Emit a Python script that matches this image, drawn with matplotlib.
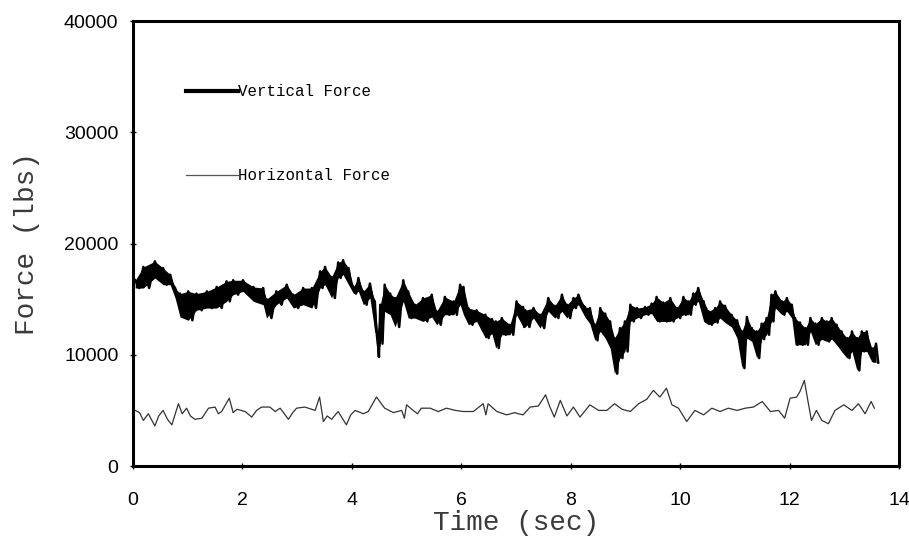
import numpy as np
import matplotlib
matplotlib.use("Agg")
import matplotlib.pyplot as plt
from matplotlib.lines import Line2D

# ---- Vertical force: time (s), band upper and lower edges (lbs)
vert_t = [0.04, 0.19, 0.40, 0.55, 0.68, 0.77, 0.86, 1.01, 1.16, 1.35, 1.53, 1.71, 1.83, 2.01,
          2.20, 2.38, 2.44, 2.62, 2.81, 2.93, 3.11, 3.27, 3.42, 3.51, 3.63, 3.75, 3.84, 3.94,
          4.03, 4.12, 4.21, 4.33, 4.42, 4.47, 4.52, 4.60, 4.70, 4.79, 4.94, 5.03, 5.15, 5.30,
          5.46, 5.55, 5.70, 5.86, 5.98, 6.04, 6.13, 6.28, 6.44, 6.56, 6.63, 6.74, 6.89, 7.01,
          7.13, 7.17, 7.32, 7.44, 7.59, 7.71, 7.84, 7.93, 8.05, 8.14, 8.26, 8.35, 8.44, 8.54,
          8.63, 8.72, 8.80, 8.90, 8.99, 9.09, 9.21, 9.36, 9.48, 9.57, 9.69, 9.82, 9.94, 10.06,
          10.15, 10.24, 10.33, 10.43, 10.52, 10.64, 10.73, 10.82, 10.94, 11.04, 11.13, 11.22,
          11.31, 11.40, 11.49, 11.58, 11.67, 11.74, 11.86, 11.95, 12.04, 12.10, 12.19, 12.29,
          12.38, 12.47, 12.59, 12.68, 12.77, 12.86, 12.95, 13.05, 13.14, 13.23, 13.32, 13.41,
          13.50, 13.58]
vert_hi = [16700, 17900, 18400, 17800, 17200, 16000, 15500, 15700, 15500, 15700, 16100, 16600,
           16700, 16700, 16100, 16000, 15000, 15700, 16300, 15400, 16000, 16000, 17500, 17900,
           17000, 18300, 18500, 17800, 16100, 16900, 15700, 16400, 14800, 12000, 14500, 16300,
           15500, 15100, 16700, 15700, 14500, 15100, 15400, 13900, 15200, 14800, 16300, 16100,
           14200, 14000, 13600, 13200, 13000, 13300, 12700, 14800, 14300, 14000, 14200, 13600,
           15100, 14400, 15400, 14500, 15100, 15400, 14300, 14200, 12700, 14200, 13700, 13000,
           11500, 12400, 13000, 14500, 14200, 14300, 14600, 15200, 14700, 15100, 14200, 15200,
           14800, 15500, 16000, 14800, 13900, 14200, 14800, 14400, 13600, 13100, 12100, 13400,
           12400, 12100, 12800, 13300, 15400, 15700, 14800, 15100, 14500, 13300, 12900, 12400,
           13300, 12800, 13300, 13000, 13300, 12700, 12100, 11500, 12100, 11500, 12100, 12100,
           10600, 11000]
vert_lo = [16000, 16000, 16900, 16300, 16300, 15100, 13400, 13100, 14000, 14200, 14200, 14800,
           15400, 15700, 14800, 14500, 13300, 14500, 15100, 14200, 14500, 14200, 16000, 16300,
           15100, 16900, 17200, 16300, 15500, 15700, 14500, 15100, 12100, 9800, 11000, 13900,
           13600, 12500, 14800, 13300, 13300, 13000, 13400, 12700, 13600, 13600, 14500, 13600,
           12700, 13000, 11500, 11900, 10600, 11800, 11800, 13600, 12500, 12500, 13300, 12400,
           13900, 13300, 13900, 13300, 14200, 14500, 13400, 12800, 11300, 12100, 11500, 10600,
           8300, 9700, 10300, 13000, 13300, 13600, 13700, 13000, 13000, 13000, 13300, 13600,
           13600, 14500, 14800, 13000, 12700, 12900, 13300, 12900, 12500, 11500, 8800, 11500,
           11200, 9700, 11400, 11800, 13000, 14200, 13600, 13900, 13300, 10900, 10900, 10900,
           12100, 10900, 11400, 11200, 11400, 10900, 10300, 9700, 10300, 8600, 10300, 10300,
           9400, 9300]

# ---- Horizontal force: time (s), value (lbs)
horiz_t = [0.04, 0.12, 0.19, 0.28, 0.40, 0.47, 0.55, 0.63, 0.71, 0.83, 0.90, 0.98, 1.05, 1.13,
           1.26, 1.38, 1.50, 1.56, 1.62, 1.76, 1.83, 1.90, 2.05, 2.17, 2.26, 2.35, 2.50, 2.60,
           2.69, 2.84, 2.92, 2.99, 3.14, 3.33, 3.41, 3.48, 3.55, 3.63, 3.75, 3.90, 3.98, 4.06,
           4.21, 4.30, 4.45, 4.60, 4.76, 4.91, 4.96, 5.00, 5.12, 5.20, 5.27, 5.43, 5.58, 5.73,
           5.89, 6.04, 6.22, 6.40, 6.45, 6.49, 6.65, 6.83, 6.98, 7.04, 7.13, 7.26, 7.41, 7.54,
           7.62, 7.70, 7.81, 7.93, 8.05, 8.17, 8.35, 8.51, 8.66, 8.80, 8.94, 9.09, 9.24, 9.39,
           9.51, 9.63, 9.75, 9.85, 9.97, 10.12, 10.27, 10.43, 10.58, 10.73, 10.88, 11.04, 11.19,
           11.34, 11.50, 11.65, 11.80, 11.91, 12.01, 12.13, 12.19, 12.27, 12.33, 12.40, 12.49,
           12.59, 12.71, 12.83, 12.99, 13.14, 13.26, 13.38, 13.49, 13.55]
horiz_v = [5000, 4800, 4100, 4700, 3600, 4500, 5000, 4200, 3700, 5600, 4700, 5200, 4500, 4200,
           4300, 5200, 5300, 4700, 4900, 6100, 4800, 5100, 4900, 4400, 5000, 5300, 5300, 4900,
           5200, 4200, 4800, 5200, 5300, 5000, 6200, 4000, 4500, 4200, 4900, 3700, 4600, 5000,
           4700, 4900, 6200, 5200, 4800, 5000, 4300, 5500, 5000, 4700, 5200, 5200, 4900, 5200,
           5000, 4900, 4900, 5600, 4600, 5600, 4900, 4600, 4800, 4700, 4600, 5300, 5400, 6400,
           5300, 4400, 5900, 4500, 5300, 4400, 5500, 5000, 5000, 5600, 5100, 4900, 5600, 6000,
           6800, 6200, 7000, 5500, 5200, 4000, 5000, 4600, 5200, 4900, 5200, 5000, 5200,
           5300, 5800, 4900, 5000, 4300, 6100, 6200, 6700, 7700, 6000, 4100, 5000,
           4100, 3800, 5000, 5500, 5000, 5600, 4700, 5800, 5200]

xticks = [0, 2, 4, 6, 8, 10, 12, 14]
yticks = [0, 10000, 20000, 30000, 40000]
labels = ["Vertical Force", "Horizontal Force"]

mono = ["Liberation Mono", "DejaVu Sans Mono"]
sans = ["Liberation Sans", "DejaVu Sans"]

# zig-zag between the read band edges to give the trace its jagged look
vt = np.asarray(vert_t)
dt = np.diff(np.append(vt, vt[-1] + 0.08))
zz_t = np.empty(2 * len(vt))
zz_v = np.empty(2 * len(vt))
zz_t[0::2] = vt
zz_t[1::2] = vt + dt / 2
zz_v[0::2] = vert_hi
zz_v[1::2] = vert_lo

fig = plt.figure(figsize=(9.09, 5.54), dpi=100)
ax = fig.add_axes([0.1463, 0.1588, 0.8427, 0.8032])

ax.fill_between(vert_t, vert_lo, vert_hi, color="black", lw=0)
ax.plot(zz_t, zz_v, color="black", lw=1.8)
ax.plot(horiz_t, horiz_v, color="#333333", lw=0.9)

ax.set_xlim(0, 14)
ax.set_ylim(0, 40000)
ax.set_xticks(xticks)
ax.set_yticks(yticks)
ax.set_xticklabels([str(v) for v in xticks], fontfamily=sans, fontsize=14)
ax.set_yticklabels([str(v) for v in yticks], fontfamily=sans, fontsize=14)
ax.tick_params(direction="inout", length=5, width=1)
ax.tick_params(axis="x", pad=16)
ax.tick_params(axis="y", pad=8)
for s in ax.spines.values():
    s.set_linewidth(2.2)

ax.set_xlabel("Time (sec)", fontfamily=mono, fontsize=20, color="#3a3a3a", labelpad=1)
ax.set_ylabel("Force (lbs)", fontfamily=mono, fontsize=20, color="#3a3a3a", labelpad=17)

handles = [Line2D([], [], color="black", lw=3.0),
           Line2D([], [], color="#555555", lw=0.9)]
ax.legend(handles, labels, loc="upper left", bbox_to_anchor=(0.051, 0.89), frameon=False,
          handlelength=3.3, handletextpad=0.0, labelspacing=4.4,
          prop={"family": mono, "size": 11.3})

fig.savefig("out.png", dpi=100)
